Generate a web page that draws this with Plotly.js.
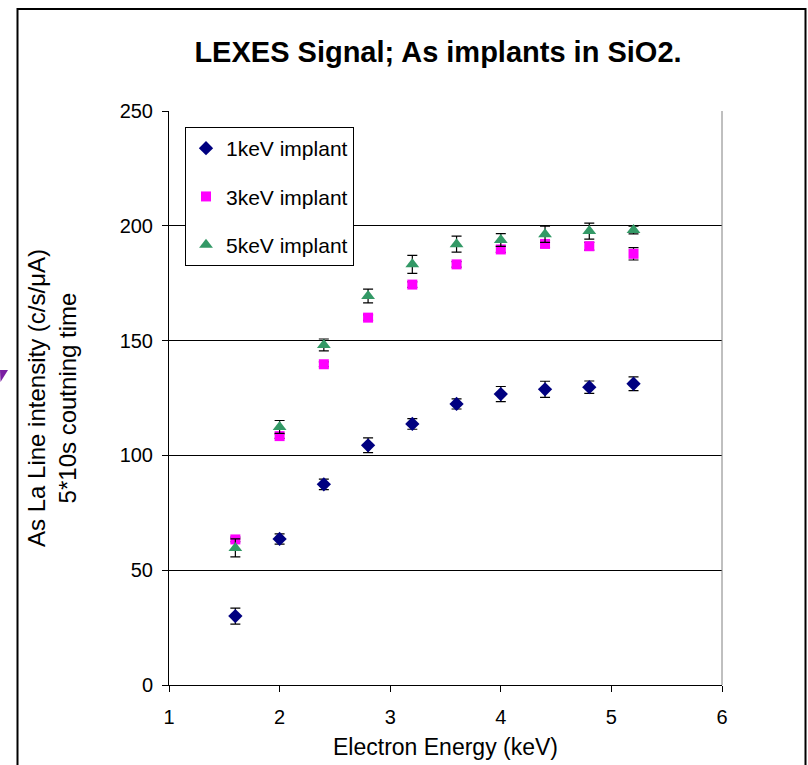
<!DOCTYPE html>
<html>
<head>
<meta charset="utf-8">
<script src="https://cdn.plot.ly/plotly-3.0.1.min.js"></script>
<style>html,body{margin:0;padding:0;background:#fff;}#chart{width:808px;height:765px;}</style>
</head>
<body>
<div id="chart"></div>
<script>
// Data
const energy = [1.6, 2.0, 2.4, 2.8, 3.2, 3.6, 4.0, 4.4, 4.8, 5.2];
const implant1 = [30.0, 63.6, 87.4, 104.4, 113.7, 122.4, 126.7, 128.8, 129.7, 131.2];
const err1 = [3.5, 2.2, 2.3, 3.2, 2.3, 2.2, 3.3, 3.5, 2.7, 3.0];
const implant3 = [63.4, 108.4, 139.7, 160.0, 174.4, 183.2, 189.7, 192.1, 191.1, 187.8];
const err3 = [1.0, 1.0, 1.0, 1.2, 1.2, 1.2, 1.3, 1.5, 1.7, 2.7];
const implant5 = [59.7, 112.4, 148.1, 169.4, 183.2, 192.0, 193.8, 196.3, 197.7, 198.2];
const err5 = [3.9, 2.8, 2.6, 3.0, 3.9, 3.5, 2.8, 3.5, 3.5, 1.7];
const seriesNames = ['1keV implant', '3keV implant', '5keV implant'];
const chartTitle = 'LEXES Signal; As implants in SiO2.';
const xTitle = 'Electron Energy (keV)';
const yTitle = 'As La Line intensity (c/s/μA)<br>5*10s coutning time';

const font = 'Arial, "Liberation Sans", sans-serif';
const errStyle = (arr) => ({type: 'data', array: arr, visible: true, color: '#000', thickness: 1.2, width: 5});

const traces = [
  {x: energy, y: implant1, name: seriesNames[0], legendgroup: 'a', mode: 'markers', type: 'scatter',
   marker: {symbol: 'diamond', size: 11, color: '#000080'}, error_y: errStyle(err1)},
  {x: energy, y: implant3, name: seriesNames[1], legendgroup: 'b', mode: 'markers', type: 'scatter',
   marker: {symbol: 'square', size: 10, color: '#FF00FF'}, error_y: errStyle(err3)},
  {x: energy, y: implant5, name: seriesNames[2], legendgroup: 'c', mode: 'markers', type: 'scatter',
   marker: {symbol: 'triangle-up', size: 12, color: '#339966'}, error_y: errStyle(err5)}
];

// pixel -> paper helpers (plot area: x 169..722, y 111..685)
const px = (p) => (p - 169) / 553;
const py = (p) => (685 - p) / 574;

const layout = {
  width: 808, height: 765,
  margin: {l: 169, r: 86, t: 111, b: 80},
  paper_bgcolor: '#fff', plot_bgcolor: '#fff',
  font: {family: font, color: '#000', size: 20},
  title: {text: '<b>' + chartTitle + '</b>', font: {family: font, size: 29, color: '#000'},
          x: px(438), xref: 'paper', xanchor: 'center', y: 1 - 52 / 765, yanchor: 'middle'},
  xaxis: {range: [1, 6], dtick: 1, tick0: 1, showgrid: false, zeroline: false,
          showline: true, linecolor: '#000', linewidth: 1,
          ticks: 'outside', ticklen: 6, tickcolor: '#000', tickfont: {size: 20}, ticklabelstandoff: 8,
          title: {text: xTitle, font: {size: 23}, standoff: 11}},
  yaxis: {range: [0, 250], dtick: 50, tick0: 0, showgrid: true, gridcolor: '#000', gridwidth: 1,
          zeroline: false, showline: true, linecolor: '#000', linewidth: 1,
          ticks: 'outside', ticklen: 6, tickcolor: '#000', tickfont: {size: 20}, ticklabelstandoff: 5,
          title: {text: yTitle, font: {size: 24}, standoff: 36}},
  showlegend: true,
  legend: {x: px(185), y: py(127), xanchor: 'left', yanchor: 'top',
           bordercolor: '#000', borderwidth: 1, bgcolor: '#fff',
           font: {size: 21}, traceorder: 'grouped', tracegroupgap: 18, itemwidth: 30},
  shapes: [
    {type: 'line', xref: 'paper', yref: 'paper', x0: 1, x1: 1, y0: 0, y1: 1,
     line: {color: '#808080', width: 1}},
    {type: 'rect', xref: 'paper', yref: 'paper', x0: px(17.5), x1: px(805.5), y0: py(9), y1: py(775),
     line: {color: '#000', width: 2}},
    {type: 'path', xref: 'paper', yref: 'paper',
     path: 'M ' + px(0) + ',' + py(370) + ' L ' + px(8) + ',' + py(370) + ' L ' + px(0.5) + ',' + py(382) + ' Z',
     fillcolor: '#7B1FA2', line: {width: 0}}
  ]
};

Plotly.newPlot('chart', traces, layout, {displayModeBar: false, staticPlot: true});
</script>
</body>
</html>
